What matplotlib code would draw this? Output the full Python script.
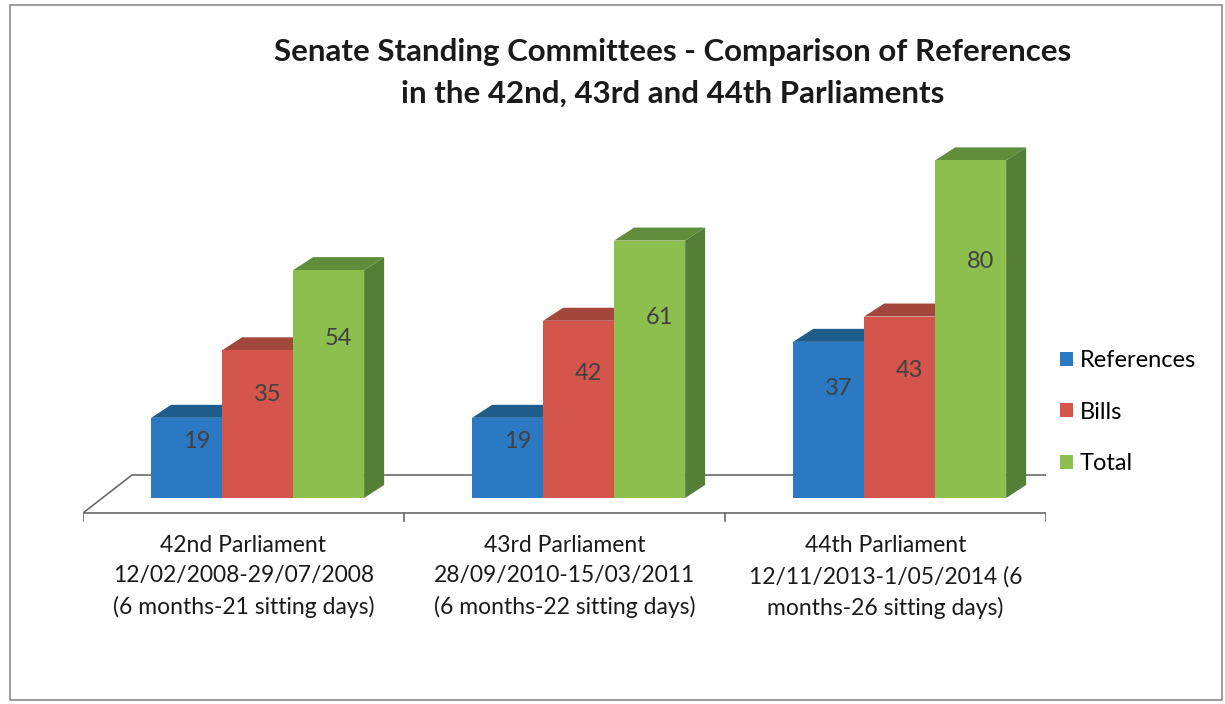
import numpy as np
import matplotlib.pyplot as plt
from matplotlib.patches import Polygon, Rectangle, Patch

plt.rcParams['font.family'] = ['Lato', 'DejaVu Sans']

# dados
categorias = ["42nd Parliament\n12/02/2008-29/07/2008\n(6 months-21 sitting days)",
              "43rd Parliament\n28/09/2010-15/03/2011\n(6 months-22 sitting days)",
              "44th Parliament\n12/11/2013-1/05/2014 (6\nmonths-26 sitting days)"]
series = ["References", "Bills", "Total"]
references = [19, 19, 37]
bills = [35, 42, 43]
total = [54, 61, 80]

# cores: frente, topo, lado
cores_frente = ["#2B79C2", "#D3554C", "#8DBF4F"]
cores_topo = ["#1E5C8C", "#A3463B", "#5F8D3B"]
cores_lado = ["#1A4F78", "#8E3C33", "#557F36"]

fig = plt.figure(figsize=(12.25, 7.04), dpi=100)
W, H = 1225, 704

# eixo posicionado em pixels: x=-0.5 -> 83px, x=2.5 -> 1046px ; y=0 -> 498px do topo
py_unit = 4.22
y_lo, y_hi = -10, 95
ax_left = 83 / W
ax_w = 963 / W
ax_bottom = (H - (498 - y_lo * py_unit)) / H
ax_h = (y_hi - y_lo) * py_unit / H
ax = fig.add_axes([ax_left, ax_bottom, ax_w, ax_h])
ax.set_xlim(-0.5, 2.5)
ax.set_ylim(y_lo, y_hi)
ax.axis('off')

px_cat = 321.0
largura = 71 / px_cat
dx = 20 / px_cat
dy = 13 / py_unit

# piso
piso_frente, piso_tras = -3.55, 5.45
piso = Polygon([(-0.5, piso_frente), (2.5, piso_frente),
                (2.5 + 47 / px_cat, piso_tras), (-0.5 + 49 / px_cat, piso_tras)],
               closed=True, facecolor='white', edgecolor='#6a6a6a', lw=1.2, zorder=1)
ax.add_patch(piso)

# marcas do eixo de categorias
for xt in np.arange(-0.5, 3.0, 1.0):
    ax.plot([xt, xt], [piso_frente, piso_frente - 8 / py_unit], color='#6a6a6a', lw=1.2, zorder=1)

valores = [references, bills, total]
x = np.arange(len(categorias))
z = 2
for g in range(len(categorias)):
    for i, vals in enumerate(valores):
        v = vals[g]
        x0 = x[g] + 0.044 + (i - 1) * largura - largura / 2
        x1 = x0 + largura
        lado = Polygon([(x1, 0), (x1 + dx, dy), (x1 + dx, v + dy), (x1, v)],
                       closed=True, facecolor=cores_lado[i], edgecolor='none', zorder=z)
        topo = Polygon([(x0, v), (x1, v), (x1 + dx, v + dy), (x0 + dx, v + dy)],
                       closed=True, facecolor=cores_topo[i], edgecolor='none', zorder=z)
        ax.add_patch(lado)
        ax.add_patch(topo)
        ax.bar(x0, v, width=largura, align='edge', color=cores_frente[i], zorder=z + 1)
        ax.text((x0 + x1) / 2 + dx / 2, v * 0.7, str(v), ha='center', va='center',
                fontsize=17, color='#404040', zorder=z + 2)
        z += 3

# rótulos das categorias
for g, cat in enumerate(categorias):
    ax.text(x[g], piso_frente - 22 / py_unit, cat, ha='center', va='top',
            fontsize=16.5, color='#1a1a1a', linespacing=1.55)

# título
fig.text(673 / W, 1 - 73 / H, "Senate Standing Committees - Comparison of References\nin the 42nd, 43rd and 44th Parliaments",
         ha='center', va='center', fontsize=22.5, fontweight='bold', color='#1a1a1a', linespacing=1.6)

# legenda
handles = [Patch(facecolor=c, edgecolor='none') for c in cores_frente]
fig.legend(handles, series, loc='upper left', bbox_to_anchor=(1060 / W, 1 - 350 / H),
           frameon=False, fontsize=17, handlelength=0.55, handleheight=0.55,
           handletextpad=0.3, labelspacing=1.3, borderaxespad=0, borderpad=0)

# moldura
fig.patches.append(Rectangle((10 / W, 1 - 700 / H), 1212 / W, 695 / H, transform=fig.transFigure,
                             fill=False, edgecolor='#8a8a8a', lw=1.2))

plt.savefig("out.png", dpi=100)
